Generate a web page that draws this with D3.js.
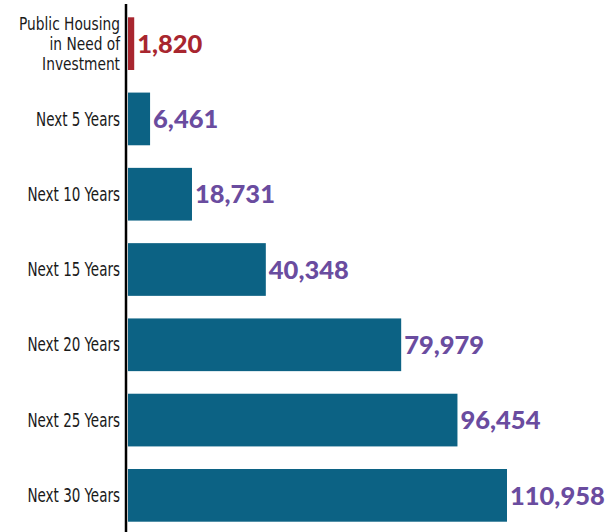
<!DOCTYPE html>
<html>
<head>
<meta charset="utf-8">
<script src="https://cdn.jsdelivr.net/npm/d3@7"></script>
<style>
  body { margin: 0; background: #fff; }
  .cat-label { font-family: "DejaVu Sans Condensed", "DejaVu Sans", sans-serif; font-stretch: condensed; font-size: 19px; fill: #1a1a1a; }
  .cat-label.multi { font-size: 17px; }
  .val-label { font-family: Lato, "Open Sans", sans-serif; font-weight: 900; font-size: 25.5px; }
</style>
</head>
<body>
<svg width="607" height="532"></svg>
<script>
// chart data
const categories = ['Public Housing|in Need of|Investment', 'Next 5 Years', 'Next 10 Years',
  'Next 15 Years', 'Next 20 Years', 'Next 25 Years', 'Next 30 Years'];
const values = [1820, 6461, 18731, 40348, 79979, 96454, 110958];
const highlight = [true, false, false, false, false, false, false];

const svg = d3.select('svg');
const axisX = 126;
const barX = 128;

const x = d3.scaleLinear()
  .domain([0, d3.max(values)])
  .range([barX, 507]);

const y = d3.scaleBand()
  .domain(categories)
  .range([6, 533])
  .paddingInner(0.3)
  .paddingOuter(0.15);

const fmt = d3.format(',');

const rows = svg.selectAll('.row')
  .data(categories)
  .enter()
  .append('g')
  .attr('class', 'row');

rows.append('rect')
  .attr('x', barX)
  .attr('y', d => y(d))
  .attr('height', y.bandwidth())
  .attr('width', (d, i) => x(values[i]) - barX)
  .attr('fill', (d, i) => highlight[i] ? '#a8262f' : '#0c6284');

rows.append('text')
  .attr('class', 'val-label')
  .attr('x', (d, i) => x(values[i]) + 3)
  .attr('y', d => y(d) + y.bandwidth() / 2)
  .attr('dy', '0.36em')
  .attr('fill', (d, i) => highlight[i] ? '#a8262f' : '#6a4c9f')
  .text((d, i) => fmt(values[i]));

// category labels, multi-line split on "|", squeezed to look condensed
rows.each(function (d) {
  const lines = d.split('|');
  const multi = lines.length > 1;
  const cy = y(d) + y.bandwidth() / 2;
  const t = d3.select(this).append('text')
    .attr('class', multi ? 'cat-label multi' : 'cat-label')
    .attr('text-anchor', 'end')
    .attr('transform', `translate(120, ${cy}) scale(${multi ? 0.9 : 0.79}, 1)`);
  const lh = 20;
  lines.forEach((ln, j) => {
    t.append('tspan')
      .attr('x', 0)
      .attr('y', (j - (lines.length - 1) / 2) * lh)
      .attr('dy', '0.35em')
      .text(ln);
  });
});

// axis line
svg.append('line')
  .attr('x1', axisX).attr('x2', axisX)
  .attr('y1', 4).attr('y2', 532)
  .attr('stroke', '#000')
  .attr('stroke-width', 2.5);
</script>
</body>
</html>
